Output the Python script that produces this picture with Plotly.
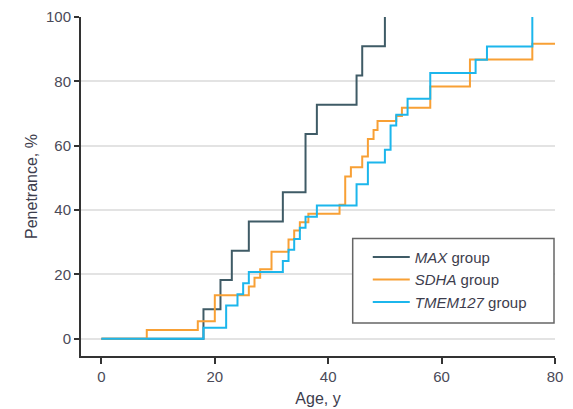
import plotly.graph_objects as go

# Data
max_age = [0, 18, 21, 23, 26, 32, 36, 38, 45, 46, 50]
max_pen = [0, 9.1, 18.2, 27.3, 36.4, 45.5, 63.6, 72.7, 81.8, 90.9, 100]

sdha_age = [0, 8, 17, 20, 26, 27, 28, 30, 33, 34, 35, 36.5, 42, 43, 44, 46, 47, 48, 48.7, 52, 53, 58, 65, 76, 80]
sdha_pen = [0, 2.7, 5.4, 13.5, 16.2, 18.9, 21.6, 27.0, 30.8, 33.6, 36.2, 38.8, 41.6, 50.4, 53.3, 56.6, 62.1, 64.9, 67.7, 69.2, 71.8, 78.4, 86.8, 91.7, 91.7]

tmem_age = [0, 18, 22, 24, 25, 26, 32, 33, 34, 35, 36, 38, 45, 47, 50, 51, 52, 54, 58, 66, 68, 76]
tmem_pen = [0, 3.4, 10.3, 13.8, 17.2, 20.7, 24.1, 27.6, 31.0, 34.5, 37.9, 41.4, 48.0, 54.8, 58.7, 66.3, 69.6, 74.6, 82.6, 86.7, 90.8, 100]

series_names = ["<i>MAX</i> group", "<i>SDHA</i> group", "<i>TMEM127</i> group"]
series_colors = ["#3f5b66", "#f8a035", "#1cb6ec"]

x_ticks = [0, 20, 40, 60, 80]
y_ticks = [0, 20, 40, 60, 80, 100]

FONT = "Liberation Sans, Arial, sans-serif"
TXT = "#3d3d4d"

fig = go.Figure()
for xs, ys, name, col in zip([max_age, sdha_age, tmem_age], [max_pen, sdha_pen, tmem_pen],
                             series_names, series_colors):
    fig.add_trace(go.Scatter(x=xs, y=ys, mode="lines", line=dict(shape="hv", color=col, width=2),
                             name=name))

# legend frame (decorative box around the legend entries)
fig.add_shape(type="rect", xref="paper", yref="paper", x0=0.5732, x1=0.9979, y0=0.0974, y1=0.3466,
              line=dict(color="#666", width=1.5), fillcolor="white", layer="above")

fig.update_layout(
    width=565, height=401,
    margin=dict(l=73, r=18, t=9, b=53.3),
    paper_bgcolor="white", plot_bgcolor="white",
    font=dict(family=FONT, size=14, color=TXT),
    showlegend=True,
    legend=dict(x=0.605, y=0.340, xanchor="left", yanchor="top",
                borderwidth=0, bgcolor="rgba(0,0,0,0)",
                font=dict(family=FONT, size=15, color=TXT),
                itemwidth=37, tracegroupgap=0),
    xaxis=dict(range=[-3.6, 80], tickvals=x_ticks, showgrid=False, zeroline=False,
               showline=True, linecolor="#333", linewidth=2, automargin=False,
               ticks="outside", ticklen=6, tickwidth=2, tickcolor="#333",
               title=dict(text="Age, y", standoff=9, font=dict(size=16, color=TXT)),
               tickfont=dict(size=15, color="#4a4a58")),
    yaxis=dict(range=[-5.4, 100], tickvals=y_ticks, showgrid=True, gridcolor="#e3e3e3", gridwidth=1.5,
               zeroline=False, showline=True, linecolor="#333", linewidth=2, automargin=False,
               ticks="outside", ticklen=5, tickwidth=2, tickcolor="#333",
               title=dict(text="Penetrance, %", standoff=4, font=dict(size=16, color=TXT)),
               tickfont=dict(size=15, color="#4a4a58")),
)

fig.write_html("out.html")
